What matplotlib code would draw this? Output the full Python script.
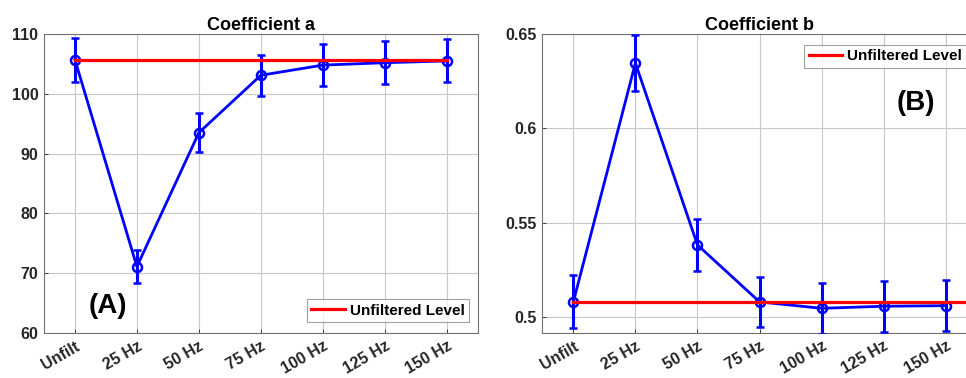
import matplotlib
matplotlib.use("Agg")
import matplotlib.pyplot as plt

plt.rcParams["font.family"] = ["Liberation Sans", "DejaVu Sans"]
plt.rcParams["font.weight"] = "bold"

# ---------------------------------------------------------------- data
categories = ["Unfilt", "25 Hz", "50 Hz", "75 Hz", "100 Hz", "125 Hz", "150 Hz"]

coef_a = [105.7, 71.1, 93.5, 103.1, 104.8, 105.2, 105.5]
coef_a_err = [3.7, 2.8, 3.25, 3.4, 3.5, 3.55, 3.6]
coef_a_unfilt = 105.7

coef_b = [0.508, 0.6346, 0.5382, 0.508, 0.5046, 0.5057, 0.506]
coef_b_err = [0.0141, 0.015, 0.0137, 0.0131, 0.0134, 0.0135, 0.0136]
coef_b_unfilt = 0.508

BLUE = "#0000FF"
RED = "#FF0000"
TXT = "#262626"


def _style(ax, title, ylim, yticks, ytick_labels):
    x = list(range(1, len(categories) + 1))
    ax.set_xlim(0.5, 7.5)
    ax.set_ylim(*ylim)
    ax.set_xticks(x)
    ax.set_xticklabels(categories, rotation=30, ha="right",
                       rotation_mode="anchor", fontsize=11.5, fontweight="bold")
    ax.set_yticks(yticks)
    ax.set_yticklabels(ytick_labels, fontsize=11.5, fontweight="bold")
    ax.tick_params(direction="in", length=3, width=0.6, color=TXT,
                   labelcolor=TXT, pad=4)
    ax.grid(True, color="#c8c8c8", linewidth=0.8)
    ax.set_axisbelow(True)
    for s in ax.spines.values():
        s.set_color("#707070")
        s.set_linewidth(0.8)
    ax.set_title(title, fontsize=13, fontweight="bold", pad=3)


def _series(ax, vals, errs, unfilt, red_x):
    x = list(range(1, len(vals) + 1))
    ax.errorbar(x, vals, yerr=errs, color=BLUE, linewidth=2.0,
                marker="o", markersize=6.5, markerfacecolor="none",
                markeredgewidth=1.8, ecolor=BLUE, elinewidth=2.2,
                capsize=2.8, capthick=2.0, zorder=3)
    ax.plot(red_x, [unfilt, unfilt], color=RED, linewidth=2.3,
            label="Unfiltered Level", zorder=4)


def _legend(ax, loc, anchor):
    leg = ax.legend(loc=loc, bbox_to_anchor=anchor, fancybox=False,
                    edgecolor="#8a8a8a", handlelength=2.2, handletextpad=0.3,
                    borderpad=0.3, borderaxespad=0.0,
                    prop={"weight": "bold", "size": 11})
    leg.get_frame().set_linewidth(0.8)
    return leg


fig = plt.figure(figsize=(9.66, 3.78), dpi=100)

# ---------------------------------------------------------------- panel A
ax1 = fig.add_axes([0.0455, 0.119, 0.449, 0.791])
_series(ax1, coef_a, coef_a_err, coef_a_unfilt, [1, 7])
_style(ax1, "Coefficient a", (60, 110), [60, 70, 80, 90, 100, 110],
       ["60", "70", "80", "90", "100", "110"])
_legend(ax1, "lower right", (0.98, 0.036))
ax1.text(0.147, 0.092, "(A)", transform=ax1.transAxes, fontsize=20,
         fontweight="bold", ha="center", va="center")

# ---------------------------------------------------------------- panel B
ax2 = fig.add_axes([0.5614, 0.119, 0.4497, 0.791])
_series(ax2, coef_b, coef_b_err, coef_b_unfilt, [1, 8])
_style(ax2, "Coefficient b", (0.4915, 0.65), [0.5, 0.55, 0.6, 0.65],
       ["0.5", "0.55", "0.6", "0.65"])
_legend(ax2, "upper right", (0.976, 0.964))
ax2.text(0.86, 0.77, "(B)", transform=ax2.transAxes, fontsize=20,
         fontweight="bold", ha="center", va="center")

fig.savefig("out.png", dpi=100)
